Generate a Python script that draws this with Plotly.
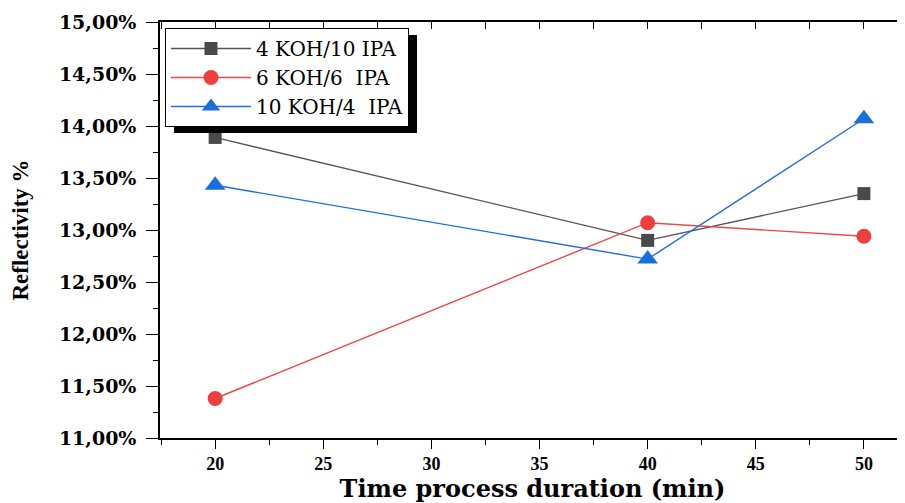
import plotly.graph_objects as go

time_min = [20, 40, 50]
koh4_ipa10 = [13.89, 12.90, 13.35]
koh6_ipa6 = [11.38, 13.07, 12.94]
koh10_ipa4 = [13.43, 12.72, 14.07]
series_names = ["4 KOH/10 IPA", "6 KOH/6\u00a0 IPA", "10 KOH/4\u00a0 IPA"]
y_ticks = [11.0, 11.5, 12.0, 12.5, 13.0, 13.5, 14.0, 14.5, 15.0]
y_ticktext = ["11,00%", "11,50%", "12,00%", "12,50%", "13,00%", "13,50%", "14,00%", "14,50%", "15,00%"]
x_ticks = [20, 25, 30, 35, 40, 45, 50]

fig = go.Figure()
fig.add_trace(go.Scatter(x=time_min, y=koh4_ipa10, name=series_names[0], mode="lines+markers",
                         line=dict(color="#555555", width=1.4),
                         marker=dict(symbol="square", size=13, color="#4a4a4a")))
fig.add_trace(go.Scatter(x=time_min, y=koh6_ipa6, name=series_names[1], mode="lines+markers",
                         line=dict(color="#f04848", width=1.4),
                         marker=dict(symbol="circle", size=15, color="#ef3e3e")))
fig.add_trace(go.Scatter(x=time_min, y=koh10_ipa4, name=series_names[2], mode="lines+markers",
                         line=dict(color="#1f6fe0", width=1.4),
                         marker=dict(symbol="triangle-up", size=18, color="#1a6fdf")))
# invisible trace for top axis
fig.add_trace(go.Scatter(x=[20], y=[13], xaxis="x2", showlegend=False, hoverinfo="skip",
                         mode="markers", marker=dict(opacity=0)))

xr = [17.45, 51.9]
fig.update_layout(
    width=905, height=503,
    margin=dict(l=152, r=8, t=14, b=73),
    plot_bgcolor="white", paper_bgcolor="white",
    xaxis=dict(range=xr, tickvals=x_ticks, showgrid=False, zeroline=False, automargin=False,
               showline=True, linecolor="black", linewidth=1.5,
               ticks="outside", ticklen=9, tickwidth=1.3, tickcolor="black",
               minor=dict(dtick=2.5, tick0=17.5, ticks="outside", ticklen=5, tickcolor="black", tickwidth=1.2),
               tickfont=dict(family="Liberation Serif", size=18, color="black", weight="bold"),
               title=dict(text="Time process duration (min)", standoff=4,
                          font=dict(family="DejaVu Serif", size=24, color="black", weight="bold"))),
    xaxis2=dict(range=xr, overlaying="x", side="top", showgrid=False, zeroline=False,
                showline=True, linecolor="black", linewidth=1.5, automargin=False,
                tick0=17.5, dtick=2.5, ticks="inside", ticklen=7, tickcolor="black",
                showticklabels=False),
    yaxis=dict(range=[11, 15], tickvals=y_ticks, ticktext=y_ticktext, automargin=False,
               showgrid=False, zeroline=False, showline=True, linecolor="black", linewidth=1.5,
               ticks="outside", ticklen=12, tickwidth=1.3, tickcolor="black", ticklabelstandoff=6,
               minor=dict(dtick=0.25, tick0=11, ticks="outside", ticklen=5, tickcolor="black", tickwidth=1.2),
               tickfont=dict(family="DejaVu Serif", size=19, color="black", weight="bold"),
               title=dict(text="Reflectivity %", standoff=28,
                          font=dict(family="Liberation Serif", size=23, color="black", weight="bold"))),
    legend=dict(x=0.0067, y=0.9856, xanchor="left", yanchor="top",
                bgcolor="white", bordercolor="black", borderwidth=1,
                itemwidth=80, tracegroupgap=0,
                font=dict(family="DejaVu Serif", size=20, color="black")),
    shapes=[dict(type="rect", xref="paper", yref="paper",
                 x0=0.0188, x1=0.345, y0=0.733, y1=0.969,
                 fillcolor="black", line=dict(width=0), layer="above")],
)

fig.write_html("out.html")
